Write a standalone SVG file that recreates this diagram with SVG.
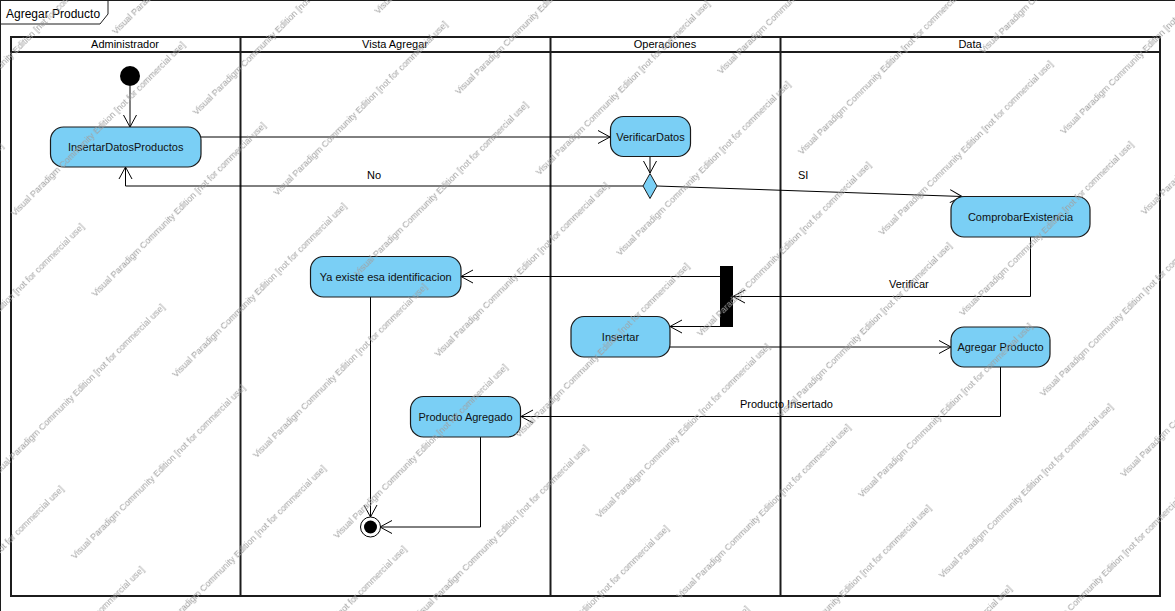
<svg xmlns="http://www.w3.org/2000/svg" width="1175" height="611" viewBox="0 0 1175 611">
<style>
  text { font-family: "Liberation Sans", Arial, sans-serif; fill: #000; }
  .hdr { font-size: 11px; text-anchor: middle; }
  .lbl { font-size: 11px; }
  .ntx { font-size: 11px; text-anchor: middle; dominant-baseline: central; fill: #111; }
  .act { fill: #7acff5; stroke: #1a1a1a; stroke-width: 1.2; }
  .lane { fill: none; stroke: #1c1c1c; stroke-width: 2; }
  .con { fill: none; stroke: #000; stroke-width: 1; marker-end: url(#arr); }
  .wm { font-size: 9px; fill: #a0a0a0; }
</style>
<defs>
  <marker id="arr" markerUnits="userSpaceOnUse" markerWidth="14" markerHeight="14" viewBox="0 0 14 14" refX="12" refY="7" orient="auto" overflow="visible">
    <path d="M0,0.5 L12,7 L0,13.5" fill="none" stroke="#000" stroke-width="1"/>
  </marker>
  <pattern id="wmp" patternUnits="userSpaceOnUse" width="400" height="114" x="57.2" y="86.6" patternTransform="rotate(-45)">
    <text class="wm" x="0" y="20">Visual Paradigm Community Edition [not for commercial use]</text>
    <text class="wm" x="400" y="20">Visual Paradigm Community Edition [not for commercial use]</text>
    <text class="wm" x="200" y="77">Visual Paradigm Community Edition [not for commercial use]</text>
    <text class="wm" x="-200" y="77">Visual Paradigm Community Edition [not for commercial use]</text>
  </pattern>
</defs>
<rect x="0" y="0" width="1175" height="611" fill="#fff"/>

<g id="frame">
  <rect x="0.5" y="0.5" width="1300" height="700" fill="none" stroke="#1c1c1c" stroke-width="1"/>
  <path d="M0.5,24 H100 L108,14 V0.5" fill="none" stroke="#1c1c1c" stroke-width="1"/>
  <text x="6" y="18" style="font-size:12px">Agregar Producto</text>
</g>

<g id="lanes">
  <rect class="lane" x="11" y="37" width="1149" height="559"/>
  <line class="lane" x1="11" y1="52" x2="1160" y2="52"/>
  <line class="lane" x1="240.5" y1="37" x2="240.5" y2="596"/>
  <line class="lane" x1="550.5" y1="37" x2="550.5" y2="596"/>
  <line class="lane" x1="780.5" y1="37" x2="780.5" y2="596"/>
  <text class="hdr" x="125" y="48">Administrador</text>
  <text class="hdr" x="395" y="48">Vista Agregar</text>
  <text class="hdr" x="665" y="48">Operaciones</text>
  <text class="hdr" x="970" y="48">Data</text>
</g>

<g id="connectors">
  <path class="con" d="M130,86 V127"/>
  <path class="con" d="M201,137 H610"/>
  <path class="con" d="M650,156 V173"/>
  <path class="con" d="M643,186 H125.5 V167"/>
  <path class="con" d="M657,186 L962,196.5"/>
  <path class="con" d="M1030.5,237 V296.5 H733"/>
  <path class="con" d="M720,276.5 H461"/>
  <path class="con" d="M720,326.5 H670"/>
  <path class="con" d="M670,347 H951"/>
  <path class="con" d="M1000.5,367 V416.5 H521"/>
  <path class="con" d="M370.5,297 V517"/>
  <path class="con" d="M480.5,437 V527 H380"/>
  <text class="lbl" x="367" y="179">No</text>
  <text class="lbl" x="798" y="179">SI</text>
  <text class="lbl" x="889" y="288">Verificar</text>
  <text class="lbl" x="740" y="408">Producto Insertado</text>
</g>

<g id="initial">
  <circle cx="130" cy="76" r="10" fill="#000"/>
</g>
<g id="insertarDatosProductos">
  <rect class="act" x="50.5" y="127" width="150.5" height="40" rx="13"/>
  <text class="ntx" x="125.7" y="147">InsertarDatosProductos</text>
</g>
<g id="verificarDatos">
  <rect class="act" x="610.5" y="116.5" width="80" height="40" rx="13"/>
  <text class="ntx" x="650.5" y="137">VerificarDatos</text>
</g>
<g id="decision">
  <path d="M650,173.5 L657,186 L650,198.5 L643,186 Z" fill="#7acff5" stroke="#1a1a1a" stroke-width="1"/>
</g>
<g id="comprobarExistencia">
  <rect class="act" x="951" y="196.5" width="139" height="40.5" rx="13"/>
  <text class="ntx" x="1020.5" y="217">ComprobarExistencia</text>
</g>
<g id="fork">
  <rect x="720" y="266" width="13" height="61" fill="#000"/>
</g>
<g id="yaExiste">
  <rect class="act" x="310.5" y="256.5" width="150.5" height="40.5" rx="13"/>
  <text class="ntx" x="385.7" y="277">Ya existe esa identificacion</text>
</g>
<g id="insertar">
  <rect class="act" x="571" y="316.5" width="99" height="40.5" rx="13"/>
  <text class="ntx" x="620.5" y="337">Insertar</text>
</g>
<g id="agregarProducto">
  <rect class="act" x="951" y="327" width="99" height="40" rx="13"/>
  <text class="ntx" x="1000.5" y="347">Agregar Producto</text>
</g>
<g id="productoAgregado">
  <rect class="act" x="410.5" y="396.5" width="110" height="40.5" rx="13"/>
  <text class="ntx" x="465.5" y="417">Producto Agregado</text>
</g>
<g id="final">
  <circle cx="370.5" cy="527" r="10" fill="#fff" stroke="#000" stroke-width="1"/>
  <circle cx="370.5" cy="527" r="6.5" fill="#000"/>
</g>

<g id="watermark" pointer-events="none">
  <rect x="0" y="0" width="1175" height="611" fill="url(#wmp)"/>
</g>
</svg>
